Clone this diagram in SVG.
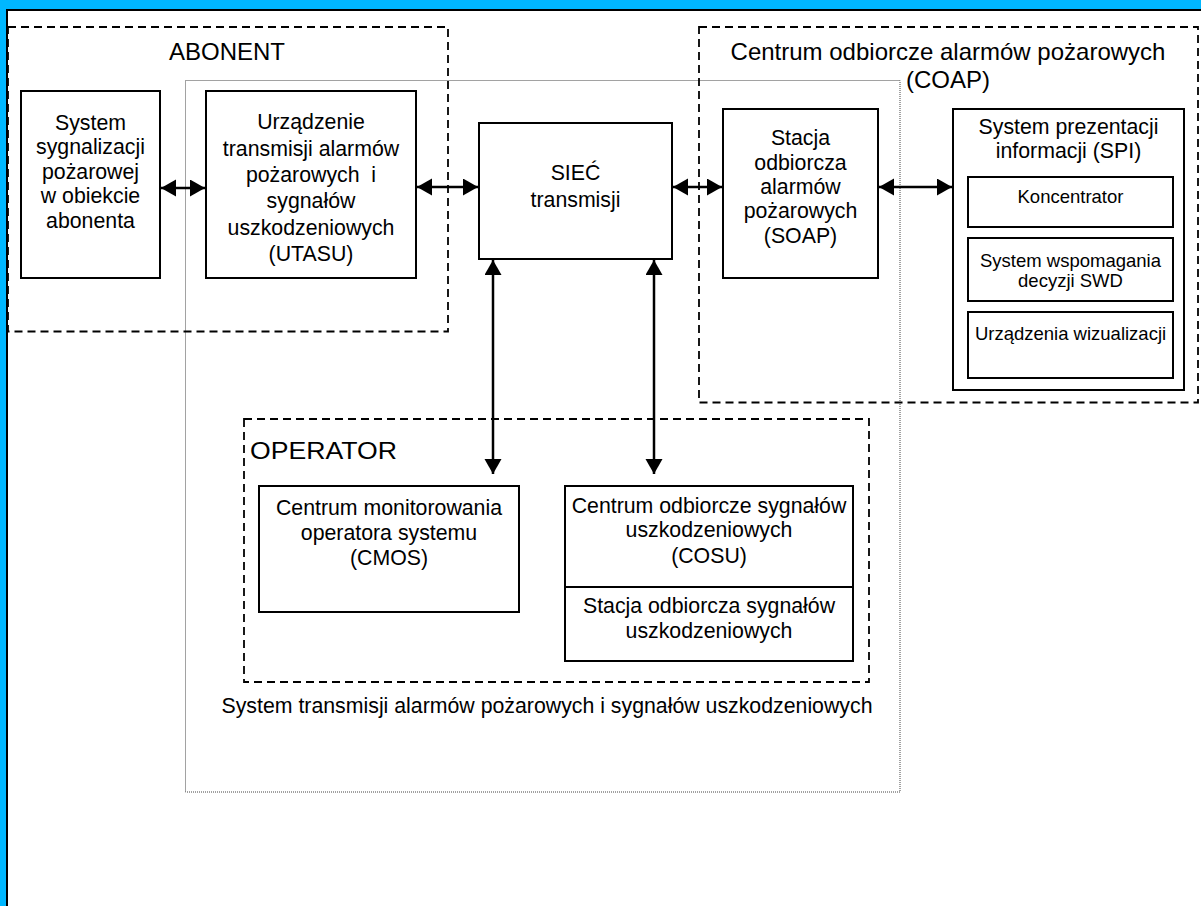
<svg xmlns="http://www.w3.org/2000/svg" width="1201" height="906" viewBox="0 0 1201 906">
<style>
text{font-family:"Liberation Sans",Arial,sans-serif;fill:#000;text-anchor:middle}
.t{font-size:21.3px}
.s{font-size:18.5px}
.h{font-size:24px}
.box{fill:#fff;stroke:#000;stroke-width:2}
.dash{fill:none;stroke:#000;stroke-width:1.8;stroke-dasharray:8 5}
.dot{fill:none;stroke:#444;stroke-width:1;stroke-dasharray:1 1}
.c{fill:none;stroke:#000;stroke-width:2.5;marker-start:url(#ah);marker-end:url(#ah)}
</style>
<defs>
<marker id="ah" markerUnits="userSpaceOnUse" markerWidth="16" markerHeight="18" refX="15" refY="8.5" orient="auto-start-reverse" viewBox="0 0 16 18">
<path d="M0,0 L15,8.5 L0,17 z" fill="#000"/>
</marker>
</defs>
<rect x="0" y="0" width="1201" height="906" fill="#00B7FF"/>
<rect x="7" y="10" width="1195" height="897" fill="#fff" stroke="#000" stroke-width="2"/>

<g id="system-transmisji">
<rect class="dot" x="185.5" y="80.5" width="714.5" height="711.5"/>
<text class="t" x="547" y="713">System transmisji alarmów pożarowych i sygnałów uszkodzeniowych</text>
</g>

<g id="abonent">
<rect class="dash" x="8" y="27" width="440" height="304.5"/>
<text class="h" x="227" y="60">ABONENT</text>
</g>

<g id="coap">
<rect class="dash" x="699" y="27" width="499" height="375.5"/>
<text class="h" x="948" y="60">Centrum odbiorcze alarmów pożarowych</text>
<text class="h" x="948" y="88">(COAP)</text>
</g>

<g id="operator">
<rect class="dash" x="244" y="419" width="625" height="263"/>
<text class="h" x="250" y="459" style="text-anchor:start" textLength="147" lengthAdjust="spacingAndGlyphs">OPERATOR</text>
</g>

<g id="ssp">
<rect class="box" x="21" y="91" width="139" height="187"/>
<text class="t" x="90.5" y="130">System</text>
<text class="t" x="90.5" y="154">sygnalizacji</text>
<text class="t" x="90.5" y="179">pożarowej</text>
<text class="t" x="90.5" y="203">w obiekcie</text>
<text class="t" x="90.5" y="228">abonenta</text>
</g>

<g id="utasu">
<rect class="box" x="206" y="91" width="210" height="187"/>
<text class="t" x="311" y="129">Urządzenie</text>
<text class="t" x="311" y="156">transmisji alarmów</text>
<text class="t" x="311" y="182" xml:space="preserve">pożarowych  i</text>
<text class="t" x="311" y="208">sygnałów</text>
<text class="t" x="311" y="235">uszkodzeniowych</text>
<text class="t" x="311" y="261">(UTASU)</text>
</g>

<g id="siec">
<rect class="box" x="479" y="123" width="193" height="136"/>
<text class="t" x="575.5" y="180">SIEĆ</text>
<text class="t" x="575.5" y="207">transmisji</text>
</g>

<g id="soap">
<rect class="box" x="723" y="109" width="155" height="169"/>
<text class="t" x="800.5" y="145">Stacja</text>
<text class="t" x="800.5" y="170">odbiorcza</text>
<text class="t" x="800.5" y="194">alarmów</text>
<text class="t" x="800.5" y="218">pożarowych</text>
<text class="t" x="800.5" y="243">(SOAP)</text>
</g>

<g id="spi">
<rect class="box" x="953" y="109" width="231" height="281"/>
<text class="t" x="1068.5" y="134">System prezentacji</text>
<text class="t" x="1068.5" y="158">informacji (SPI)</text>
</g>
<g id="koncentrator">
<rect class="box" x="968" y="177" width="205" height="50"/>
<text class="s" x="1070.5" y="203">Koncentrator</text>
</g>
<g id="swd">
<rect class="box" x="968" y="238" width="205" height="63"/>
<text class="s" x="1070.5" y="267">System wspomagania</text>
<text class="s" x="1070.5" y="287">decyzji SWD</text>
</g>
<g id="wizualizacja">
<rect class="box" x="968" y="312" width="205" height="66"/>
<text class="s" x="1070.5" y="340">Urządzenia wizualizacji</text>
</g>

<g id="cmos">
<rect class="box" x="259" y="486" width="260" height="126"/>
<text class="t" x="389" y="515">Centrum monitorowania</text>
<text class="t" x="389" y="540">operatora systemu</text>
<text class="t" x="389" y="565">(CMOS)</text>
</g>

<g id="cosu">
<rect class="box" x="565" y="486" width="288" height="175"/>
<line x1="565" y1="587" x2="853" y2="587" stroke="#000" stroke-width="2"/>
<text class="t" x="709" y="513">Centrum odbiorcze sygnałów</text>
<text class="t" x="709" y="537">uszkodzeniowych</text>
<text class="t" x="709" y="563">(COSU)</text>
<text class="t" x="709" y="613">Stacja odbiorcza sygnałów</text>
<text class="t" x="709" y="638">uszkodzeniowych</text>
</g>

<g id="connectors">
<line class="c" x1="161" y1="188" x2="205" y2="188"/>
<line class="c" x1="417" y1="187" x2="478" y2="187"/>
<line class="c" x1="673" y1="187" x2="722" y2="187"/>
<line class="c" x1="879" y1="187" x2="952" y2="187"/>
<line class="c" x1="493" y1="260" x2="493" y2="474"/>
<line class="c" x1="654" y1="260" x2="654" y2="474"/>
</g>
</svg>
